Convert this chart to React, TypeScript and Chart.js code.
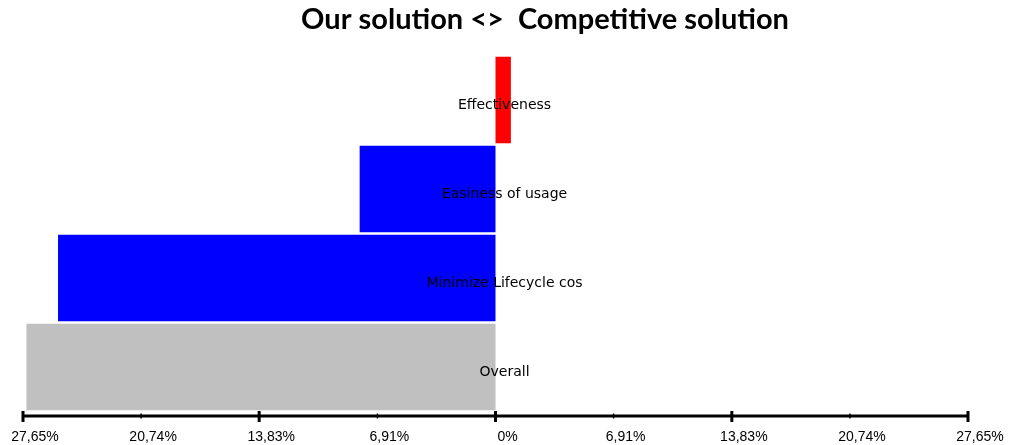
import React, { useEffect, useRef } from "react";
import { Chart, registerables } from "chart.js";

Chart.register(...registerables);

const categories = ["Effectiveness", "Easiness of usage", "Minimize Lifecycle cos", "Overall"];
const values = [0.9, -7.95, -25.6, -27.45];
const barColors = ["#ff0000", "#0000ff", "#0000ff", "#c0c0c0"];
const axisMax = 27.65;
const tickValues = [-27.65, -20.74, -13.83, -6.91, 0, 6.91, 13.83, 20.74, 27.65];
const tickLabels = ["27,65%", "20,74%", "13,83%", "6,91%", "0%", "6,91%", "13,83%", "20,74%", "27,65%"];
const titleText = "Our solution <>  Competitive solution";

const overlayPlugin = {
  id: "overlay",
  afterDatasetsDraw(chart: any) {
    const ctx = chart.ctx;
    const xs = chart.scales.x;
    const ys = chart.scales.y;
    const area = chart.chartArea;
    ctx.save();
    // category labels
    ctx.fillStyle = "#000";
    ctx.font = "14px 'DejaVu Sans', sans-serif";
    ctx.textAlign = "center";
    ctx.textBaseline = "middle";
    const zx = xs.getPixelForValue(0);
    categories.forEach((c, i) => {
      const y = ys.getPixelForValue(i);
      ctx.fillText(c, zx + 9, y + 5);
    });
    // axis line
    const ay = area.bottom + 4.5;
    ctx.strokeStyle = "#000";
    ctx.lineWidth = 3;
    ctx.beginPath();
    ctx.moveTo(xs.getPixelForValue(-axisMax), ay);
    ctx.lineTo(xs.getPixelForValue(axisMax), ay);
    ctx.stroke();
    tickValues.forEach((v, i) => {
      const x = xs.getPixelForValue(v);
      const major = i % 2 === 0;
      ctx.lineWidth = major ? 3 : 1.5;
      ctx.beginPath();
      ctx.moveTo(x, ay - (major ? 5 : 2.5));
      ctx.lineTo(x, ay + (major ? 6 : 2.5));
      ctx.stroke();
    });
    // tick labels
    ctx.font = "14px 'Liberation Sans', Arial, sans-serif";
    ctx.textAlign = "center";
    ctx.textBaseline = "alphabetic";
    tickValues.forEach((v, i) => {
      const x = xs.getPixelForValue(v);
      ctx.fillText(tickLabels[i], x + 12, ay + 25);
    });
    // title
    ctx.font = "bold 29px Lato, 'Open Sans', sans-serif";
    ctx.textAlign = "center";
    ctx.textBaseline = "middle";
    ctx.fillText(titleText, 545, 20);
    ctx.restore();
  },
};

export default function App() {
  const ref = useRef<HTMLCanvasElement | null>(null);
  useEffect(() => {
    if (!ref.current) return;
    const chart = new Chart(ref.current, {
      type: "bar",
      data: {
        labels: categories,
        datasets: [
          {
            data: values,
            backgroundColor: barColors,
            borderWidth: 0,
            barPercentage: 0.97,
            categoryPercentage: 1,
          },
        ],
      },
      options: {
        indexAxis: "y",
        responsive: false,
        animation: false,
        layout: { padding: { left: 23, right: 43, top: 55.5, bottom: 33.5 } },
        plugins: { legend: { display: false }, title: { display: false }, tooltip: { enabled: false } },
        scales: {
          x: { display: false, min: -axisMax, max: axisMax },
          y: { display: false },
        },
      },
      plugins: [overlayPlugin],
    } as any);
    return () => chart.destroy();
  }, []);
  return (
    <div style={{ position: "fixed", left: 0, top: 0, width: 1011, height: 445, background: "#fff" }}>
      <canvas ref={ref} width={1011} height={445} style={{ display: "block" }} />
    </div>
  );
}
